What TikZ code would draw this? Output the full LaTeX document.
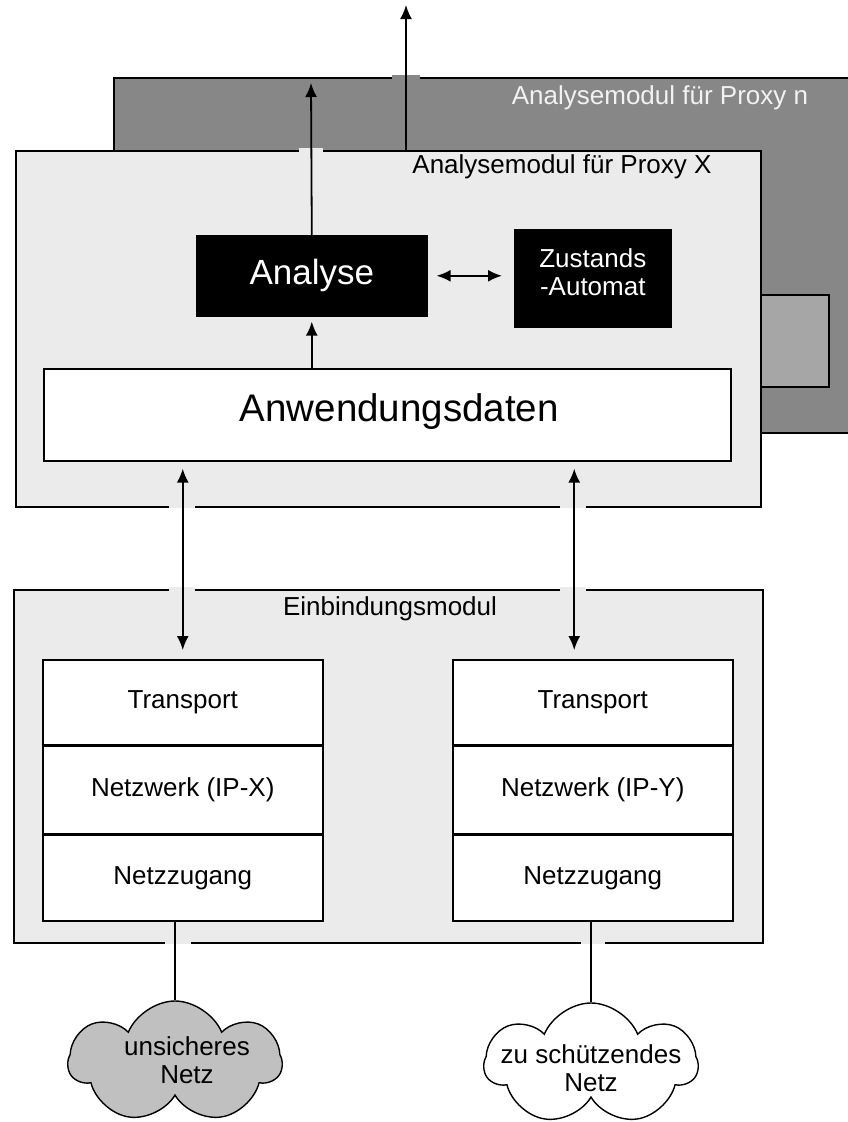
\documentclass[tikz,border=0pt]{standalone}
\usepackage{fontspec}
\setmainfont{Liberation Sans}
\usetikzlibrary{arrows.meta,shapes.symbols}

\definecolor{dunkel}{HTML}{878787}
\definecolor{hell}{HTML}{EBEBEB}
\definecolor{mittel}{HTML}{A6A6A6}
\definecolor{wolke}{HTML}{C0C0C0}

\begin{document}
\begin{tikzpicture}[x=1pt,y=-1pt,>={Latex[length=14pt,width=12pt]},
	box/.style={draw,line width=1.6pt,inner sep=0pt,anchor=north west},
	txt/.style={font=\fontsize{26}{28}\selectfont},
	schicht/.style={box,fill=white,line width=1.5pt,minimum width=280pt,txt},
	netz/.style={cloud,cloud puffs=7,cloud puff arc=135,cloud ignores aspect,draw,line width=1.4pt,
		minimum width=213pt,minimum height=122pt,inner sep=0pt},
	pfeil/.style={->,line width=1.8pt},
	linie/.style={line width=1.4pt}]

\useasboundingbox (0,0) rectangle (848,1122);

% Analysemodule
\node[box,fill=dunkel,minimum width=760pt,minimum height=355pt] (proxyn) at (113,77) {};
\node[txt,text=white!95!black] (namen) at (660,98) {Analysemodul für Proxy n};
\node[box,fill=mittel,minimum width=68pt,minimum height=92pt] (puffer) at (760,294) {};

\node[box,fill=hell,minimum width=745pt,minimum height=356pt] (proxyx) at (15,150) {};
\node[txt] (namex) at (562,167) {Analysemodul für Proxy X};

\node[box,fill=black,text=white,minimum width=230pt,minimum height=80pt,
	font=\fontsize{35}{38}\selectfont] (analyse) at (196,235) {Analyse};
\node[box,fill=black,minimum width=156pt,minimum height=97pt,
	label={[txt,text=white,align=center,yshift=6pt]center:Zustands\\-Automat}] (automat) at (514,229) {};
\node[box,fill=white,minimum width=687pt,minimum height=92pt,
	label={[font=\fontsize{38.5}{40}\selectfont,xshift=12pt,yshift=3pt]center:Anwendungsdaten}] (daten) at (43,368) {};

% Einbindungsmodul
\node[box,fill=hell,minimum width=749pt,minimum height=353pt] (einbindung) at (13,589) {};
\node[txt] (nameein) at (390,609) {Einbindungsmodul};

\node[schicht,minimum height=85pt] (transportL) at (42,659) {Transport};
\node[schicht,minimum height=87pt] (netzwerkL) at (transportL.south west) {Netzwerk (IP-X)};
\node[schicht,minimum height=86pt] (zugangL) at (netzwerkL.south west) {Netzzugang};

\node[schicht,minimum height=85pt] (transportR) at (452,659) {Transport};
\node[schicht,minimum height=87pt] (netzwerkR) at (transportR.south west) {Netzwerk (IP-Y)};
\node[schicht,minimum height=86pt] (zugangR) at (netzwerkR.south west) {Netzzugang};

% Netze
\node[netz,fill=wolke,
	label={[txt,align=center,xshift=12pt,yshift=2pt]center:unsicheres\\Netz}] (unsicher) at (175,1062) {};
\node[netz,fill=white,
	label={[txt,align=center,yshift=-4pt]center:zu schützendes\\Netz}] (geschuetzt) at (591,1064) {};

% Luecken im Rahmen
\fill[hell] (299,148) rectangle (323,152);
\fill[dunkel] (392,75) rectangle (420,79);
\fill[hell] (169,504) rectangle (195,508);
\fill[hell] (169,587) rectangle (195,591);
\fill[hell] (560,504) rectangle (586,508);
\fill[hell] (560,587) rectangle (586,591);
\fill[hell] (165,940) rectangle (191,944);
\fill[hell] (581,940) rectangle (605,944);

% Verbindungen
\coordinate (ausgang1) at (311,83);
\coordinate (ausgang2) at (406,5);
\coordinate (kanalR) at ([xshift=-18.5pt]transportR.north);

\draw[pfeil] (analyse.north) -- (ausgang1);
\draw[pfeil] (ausgang2 |- proxyx.north) -- (ausgang2);
\draw[pfeil,shorten >=5pt] (daten.north -| analyse) -- (analyse.south);
\draw[pfeil,<->,shorten <=9pt,shorten >=12pt] (analyse.east) -- (analyse.east -| automat.west);

\draw[pfeil,<->,shorten <=7pt,shorten >=9pt] (daten.south -| transportL) -- (transportL.north);
\draw[pfeil,<->,shorten <=7pt,shorten >=9pt] (daten.south -| kanalR) -- (kanalR);

\draw[linie] (zugangL.south -| unsicher.north) -- (unsicher.north);
\draw[linie] (zugangR.south -| geschuetzt.north) -- (geschuetzt.north);

\end{tikzpicture}
\end{document}
